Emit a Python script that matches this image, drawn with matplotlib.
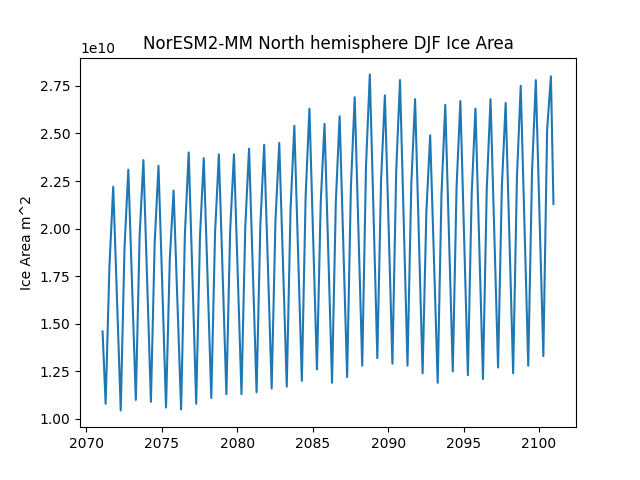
import numpy as np
import matplotlib
matplotlib.use("Agg")
import matplotlib.pyplot as plt

years = list(range(2071, 2101))

# Seasonal mean ice area (units of 1e10 m^2)
djf = [1.46, 1.63, 1.70, 1.72, 1.70, 1.62, 1.74, 1.74, 1.76, 1.76,
       1.78, 1.80, 1.81, 1.87, 1.94, 1.87, 1.90, 1.98, 2.07, 2.00,
       2.03, 1.96, 1.84, 1.95, 1.95, 1.92, 1.97, 1.95, 2.01, 2.05]
mam = [1.08, 1.045, 1.10, 1.09, 1.06, 1.05, 1.08, 1.11, 1.13, 1.13,
       1.14, 1.16, 1.17, 1.20, 1.26, 1.19, 1.22, 1.28, 1.32, 1.29,
       1.28, 1.24, 1.19, 1.25, 1.23, 1.21, 1.27, 1.24, 1.28, 1.33]
jja = [1.80, 1.90, 1.96, 1.93, 1.84, 1.97, 1.96, 1.98, 1.99, 2.01,
       2.02, 2.04, 2.10, 2.17, 2.14, 2.14, 2.22, 2.33, 2.26, 2.30,
       2.23, 2.09, 2.18, 2.22, 2.18, 2.21, 2.22, 2.27, 2.30, 2.52]
son = [2.22, 2.31, 2.36, 2.33, 2.20, 2.40, 2.37, 2.39, 2.39, 2.42,
       2.44, 2.45, 2.54, 2.63, 2.55, 2.59, 2.69, 2.81, 2.70, 2.78,
       2.68, 2.49, 2.65, 2.67, 2.63, 2.68, 2.66, 2.75, 2.78, 2.80]
dec_last = 2.13

# mean time of each season group (fraction of year)
off_djf_first = 0.083
off_djf = 0.041
off_mam = 0.288
off_jja = 0.539
off_son = 0.790
off_dec = 0.958

t, v = [], []
for i, y in enumerate(years):
    t.append(y + (off_djf_first if i == 0 else off_djf)); v.append(djf[i])
    t.append(y + off_mam); v.append(mam[i])
    t.append(y + off_jja); v.append(jja[i])
    t.append(y + off_son); v.append(son[i])
t.append(years[-1] + off_dec); v.append(dec_last)

t = np.array(t)
v = np.array(v) * 1e10

fig, ax = plt.subplots(figsize=(6.4, 4.8), dpi=100)
ax.plot(t, v)
ax.set_title("NorESM2-MM North hemisphere DJF Ice Area")
ax.set_ylabel("Ice Area m^2")
fig.savefig("out.png")
